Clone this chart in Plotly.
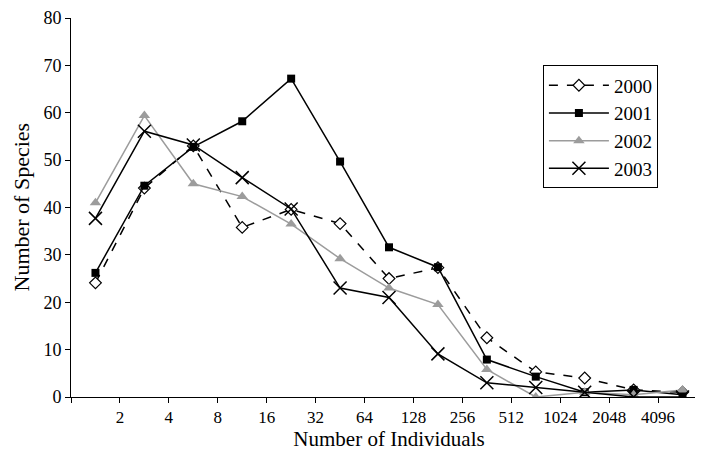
import plotly.graph_objects as go

x_pos = [0.5 + i for i in range(13)]
tick_vals = list(range(14))
tick_text = ["", "2", "4", "8", "16", "32", "64", "128", "256", "512", "1024", "2048", "4096", ""]

y2000 = [24.1, 44.1, 53.0, 35.8, 39.6, 36.6, 25.0, 27.3, 12.5, 5.3, 4.0, 1.5, 1.0]
y2001 = [26.2, 44.6, 52.8, 58.2, 67.2, 49.7, 31.6, 27.4, 7.9, 4.3, 1.0, 1.5, 0.5]
y2002 = [41.0, 59.4, 45.0, 42.3, 36.5, 29.2, 23.0, 19.5, 5.8, 0.0, 1.0, 0.5, 1.5]
y2003 = [37.7, 56.1, 53.2, 46.3, 39.7, 23.0, 21.0, 9.1, 3.0, 2.0, 1.0, 0.0, 0.0]

fig = go.Figure()
fig.add_trace(go.Scatter(x=x_pos, y=y2000, name="2000", mode="lines+markers",
                         line=dict(color="black", width=1.5, dash="dash"),
                         marker=dict(symbol="diamond", size=9, color="white",
                                     line=dict(color="black", width=1.2))))
fig.add_trace(go.Scatter(x=x_pos, y=y2001, name="2001", mode="lines+markers",
                         line=dict(color="black", width=1.5),
                         marker=dict(symbol="square", size=8, color="black")))
fig.add_trace(go.Scatter(x=x_pos, y=y2002, name="2002", mode="lines+markers",
                         line=dict(color="#9c9c9c", width=1.5),
                         marker=dict(symbol="triangle-up", size=10, color="#9c9c9c")))
fig.add_trace(go.Scatter(x=x_pos, y=y2003, name="2003", mode="lines+markers",
                         line=dict(color="black", width=1.5),
                         marker=dict(symbol="x-thin-open", size=13,
                                     line=dict(color="black", width=1.5), color="black")))

fig.update_layout(
    width=703, height=452,
    margin=dict(l=63, r=4, t=10, b=63),
    paper_bgcolor="white", plot_bgcolor="white",
    font=dict(family="Liberation Serif", size=18, color="black"),
    showlegend=True,
    legend=dict(x=0.742, y=0.875, xanchor="left", yanchor="top",
                bordercolor="black", borderwidth=1, bgcolor="white",
                font=dict(size=19), tracegroupgap=0, itemwidth=60),
    xaxis=dict(range=[0, 13], tickmode="array", tickvals=tick_vals, ticktext=tick_text,
               showgrid=False, zeroline=False, showline=True, linecolor="black", linewidth=1,
               ticks="outside", ticklen=5, tickcolor="black", tickfont=dict(size=17),
               automargin=False,
               title=dict(text="Number of Individuals", font=dict(size=21), standoff=2)),
    yaxis=dict(range=[0, 80], dtick=10, showgrid=False, zeroline=False,
               showline=True, linecolor="black", linewidth=1,
               ticks="outside", ticklen=5, tickcolor="black", tickfont=dict(size=18),
               automargin=False),
    annotations=[dict(text="Number of Species", textangle=-90, showarrow=False,
                      xref="paper", yref="paper", x=-(63 - 13) / 636, y=0.5,
                      xanchor="center", yanchor="middle", font=dict(size=22))],
)

fig.write_html("out.html")
